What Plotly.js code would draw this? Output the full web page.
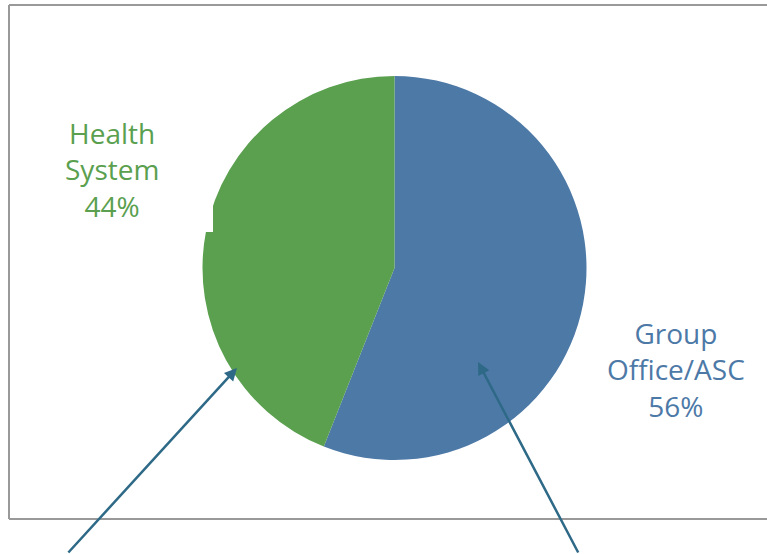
<!DOCTYPE html>
<html>
<head>
<meta charset="utf-8">
<script src="https://cdn.plot.ly/plotly-3.0.1.min.js"></script>
<style>html,body{margin:0;padding:0;background:#fff;}#chart{width:767px;height:554px;}</style>
</head>
<body>
<div id="chart"></div>
<script>
// Data
var categories = ['Group Office/ASC', 'Health System'];
var displayLabels = ['Group<br>Office/ASC', 'Health<br>System'];
var shares = [56, 44];
var sliceColors = ['#4D79A7', '#5AA04F'];

var W = 767, H = 554;
function px(x){ return x / W; }
function py(y){ return 1 - y / H; }

var cx = 394.5, cy = 268, r = 192;

var trace = {
  type: 'pie',
  labels: categories,
  values: shares,
  marker: {colors: sliceColors, line: {width: 0}},
  sort: false,
  direction: 'clockwise',
  rotation: 0,
  textinfo: 'none',
  hoverinfo: 'none',
  showlegend: false,
  domain: {x: [px(cx - r), px(cx + r)], y: [py(cy + r), py(cy - r)]}
};

var labelPos = [[675.5, 369], [111.5, 170]];
var annotations = categories.map(function(c, i){
  return {
    xref: 'paper', yref: 'paper',
    x: px(labelPos[i][0]), y: py(labelPos[i][1]),
    xanchor: 'center', yanchor: 'middle',
    text: displayLabels[i] + '<br>' + shares[i] + '%',
    showarrow: false,
    font: {family: 'Open Sans, sans-serif', size: 28, color: sliceColors[i]}
  };
});

// arrows pointing into slices (head, tail in pixels)
var arrows = [[[478, 362], [579, 556]], [[237, 368], [67, 556]]];
arrows.forEach(function(a){
  annotations.push({
    xref: 'paper', yref: 'paper',
    x: px(a[0][0]), y: py(a[0][1]),
    ax: a[1][0] - a[0][0], ay: a[1][1] - a[0][1],
    text: '',
    showarrow: true,
    arrowhead: 2, arrowsize: 1, arrowwidth: 2.5,
    arrowcolor: '#2E6A87'
  });
});

var frameColor = '#999999';
var shapes = [
  {type: 'line', xref: 'paper', yref: 'paper', x0: px(9), x1: px(9), y0: py(5), y1: py(519), line: {color: frameColor, width: 2}},
  {type: 'line', xref: 'paper', yref: 'paper', x0: px(9), x1: px(768), y0: py(5), y1: py(5), line: {color: frameColor, width: 2}},
  {type: 'line', xref: 'paper', yref: 'paper', x0: px(9), x1: px(768), y0: py(519), y1: py(519), line: {color: frameColor, width: 2}},
  {type: 'rect', xref: 'paper', yref: 'paper', layer: 'above', x0: px(11), x1: px(213), y0: py(232), y1: py(106), fillcolor: '#ffffff', line: {width: 0}}
];

var layout = {
  width: W, height: H,
  margin: {l: 0, r: 0, t: 0, b: 0},
  paper_bgcolor: '#ffffff',
  plot_bgcolor: '#ffffff',
  showlegend: false,
  annotations: annotations,
  shapes: shapes
};

Plotly.newPlot('chart', [trace], layout, {staticPlot: true, displayModeBar: false});
</script>
</body>
</html>
